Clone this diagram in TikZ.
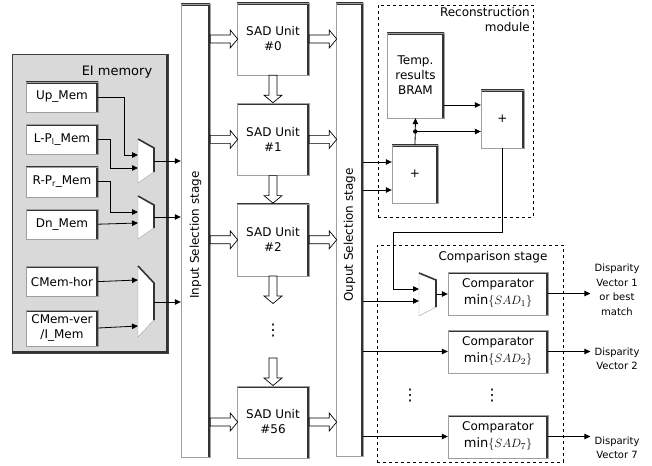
\documentclass[tikz,border=0pt]{standalone}
\usepackage{fontspec}
\setmainfont{DejaVu Sans}
\usetikzlibrary{arrows.meta,positioning,calc}
\newcommand\boxfont{\fontsize{12}{15}\selectfont}
\newcommand\sidefont{\fontsize{10}{14.5}\selectfont}
\newcommand\minsad[1]{{\fontsize{13}{15}\selectfont$\min\{SAD_{#1}\}$}}

\begin{document}
\begin{tikzpicture}[x=1pt,y=-1pt,
   blk/.style={draw=gray!75,fill=white,align=center,inner sep=1pt,font=\boxfont,
               path picture={\draw[black!80,line width=3.2pt]
                 (path picture bounding box.north west) -- (path picture bounding box.north east)
                 -- (path picture bounding box.south east);}},
   mem/.style={blk,minimum width=72pt,minimum height=30pt},
   sad/.style={blk,minimum width=72pt,minimum height=72pt},
   bar/.style={blk,minimum height=453pt},
   comp/.style={blk,minimum width=100pt,minimum height=43pt},
   eibox/.style={draw=black!75,fill=gray!30,minimum width=156pt,minimum height=299pt,
               path picture={\draw[black!80,line width=3.2pt]
                 (path picture bounding box.north east) -- (path picture bounding box.south east)
                 -- (path picture bounding box.south west);}},
   region/.style={draw,dashed,semithick},
   muxs/.style={draw=gray!75,fill=white,line join=miter},
   muxe/.style={draw=black!80,line width=1.6pt},
   barr/.pic={\draw[fill=white,line width=0.7pt,line join=miter]
                (0,-4) -- (20,-4) -- (20,-9) -- (27.5,0) -- (20,9) -- (20,4) -- (0,4) -- cycle;},
   arr/.style={-{Triangle[length=6pt,width=5.5pt]},line width=0.8pt},
   dots/.style={font=\fontsize{16}{16}\selectfont,inner sep=0pt},
   vtxt/.style={rotate=90,font=\boxfont},
   side/.style={align=center,font=\sidefont,inner sep=2pt}
  ]
  \useasboundingbox (0,0) rectangle (652,465);

  % EI memory
  \node[eibox] (ei) at (90,203.5) {};
  \node[font=\fontsize{13}{15}\selectfont] (eitxt) at (117,72) {EI memory};
  \node[mem] (up) at (62,97) {Up\_Mem};
  \node[mem,below=12pt of up] (lp) {L-P\textsubscript{l}\_Mem};
  \node[mem,below=12pt of lp] (rp) {R-P\textsubscript{r}\_Mem};
  \node[mem,below=12pt of rp] (dn) {Dn\_Mem};
  \node[mem,below=27pt of dn] (hor) {CMem-hor};
  \node[mem,minimum height=36pt,below=13pt of hor] (cv) {CMem-ver\\/I\_Mem};

  % multiplexers
  \draw[muxs] (138,139) -- (154,148) -- (154,172) -- (138,183) -- cycle;
  \draw[muxe] (138,139) -- (154,148) -- (154,172);
  \draw[muxs] (138,196) -- (154,205) -- (154,228) -- (138,239) -- cycle;
  \draw[muxe] (138,196) -- (154,205) -- (154,228);
  \draw[muxs] (138,266) -- (154,283) -- (154,320) -- (138,337) -- cycle;
  \draw[muxe] (138,266) -- (154,283) -- (154,320);
  \coordinate (m1a) at (138,155);
  \coordinate (m1b) at (138,168);
  \coordinate (m1o) at (154,161);
  \coordinate (m2a) at (138,212);
  \coordinate (m2b) at (138,223);
  \coordinate (m2o) at (154,217);
  \coordinate (m3a) at (138,280);
  \coordinate (m3b) at (138,326);
  \coordinate (m3o) at (154,302);

  \draw[arr] (up.east) -- ++(26,0) |- (m1a);
  \draw[arr] (lp.east) -- ++(12,0) |- (m1b);
  \draw[arr] (rp.east) -- ++(12,0) |- (m2a);
  \draw[arr] (dn.east) -- (m2b);
  \draw[arr] (hor.east) -- (m3a);
  \draw[arr] (cv.east) -- (m3b);

  % selection stages
  \node[bar,minimum width=29pt] (inbar) at (195.5,230.5) {};
  \node[vtxt] (intxt) at (195.5,235) {Input Selection stage};
  \node[bar,minimum width=27pt] (outbar) at (349.5,229.5) {};
  \node[vtxt] (outtxt) at (349.5,235) {Ouput Selection stage};

  \foreach \m in {m1o,m2o,m3o}
    \draw[arr] (\m) -- (\m -| inbar.west);

  % SAD units
  \node[sad] (sad0) at (273,39) {SAD Unit\\\#0};
  \node[sad,below=28pt of sad0] (sad1) {SAD Unit\\\#1};
  \node[sad,below=28pt of sad1] (sad2) {SAD Unit\\\#2};
  \node[sad] (sad56) at (273,422) {SAD Unit\\\#56};
  \node[dots] (sdots) at (273,331) {⋮};
  \coordinate (s2end) at (273,302);
  \coordinate (s56top) at (273,358);

  \foreach \s in {0,1,2,56}{
    \pic at (inbar.east |- sad\s) {barr};
    \pic at (sad\s.east) {barr};
  }
  \pic[rotate=-90] at (sad0.south) {barr};
  \pic[rotate=-90] at (sad1.south) {barr};
  \pic[rotate=-90] at (sad2.south) {barr};
  \pic[rotate=-90] at (s56top) {barr};

  % reconstruction module
  \node[region,minimum width=155pt,minimum height=212pt] (recon) at (455.5,111) {};
  \node[font=\boxfont,align=right,anchor=north east,inner sep=1pt] (recontxt) at (531,6) {Reconstruction\\module};
  \node[blk,minimum width=57pt,minimum height=85pt] (bram) at (415.5,75.5) {Temp.\\results\\BRAM};
  \node[blk,minimum width=46pt,minimum height=58pt] (adder1) at (415,174) {+};
  \node[blk,minimum width=43pt,minimum height=58pt] (adder2) at (502.5,119) {+};
  \coordinate (a1in1) at (adder1.west |- 0,162);
  \coordinate (a1in2) at (adder1.west |- 0,190);
  \coordinate (a2in1) at (adder2.west |- 0,105);
  \coordinate (jn) at ($(adder1.north)!0.5!(bram.south)$);

  \draw[arr] (outbar.east |- a1in1) -- (a1in1);
  \draw[arr] (outbar.east |- a1in2) -- (a1in2);
  \draw[arr] (bram.east |- a2in1) -- (a2in1);
  \draw[arr] (adder1.north) -- (bram.south);
  \fill (jn) circle (2.2pt);
  \draw[arr] (jn) -- (jn -| adder2.west);

  % comparison stage
  \node[region,minimum width=186pt,minimum height=217pt] (cmpst) at (470,353.5) {};
  \node[font=\boxfont] (comptxt) at (493,257) {Comparison stage};
  \draw[muxs] (419,273) -- (436,280) -- (436,307) -- (419,316) -- cycle;
  \draw[muxe] (419,273) -- (436,280) -- (436,307);
  \coordinate (cma) at (419,289);
  \coordinate (cmb) at (419,301);
  \coordinate (cmo) at (436,294);
  \node[comp] (comp1) at (498,293.5) {Comparator\\[2pt]\minsad{1}};
  \node[comp] (comp2) at (498,351.5) {Comparator\\[2pt]\minsad{2}};
  \node[comp] (comp7) at (498,436.5) {Comparator\\[2pt]\minsad{7}};
  \node[dots] (cdots1) at (410,396) {⋮};
  \node[dots] (cdots2) at (492,396) {⋮};

  \draw[arr] (adder2.south) -- ++(0,84) -| ($(cma)+(-26,0)$) -- (cma);
  \draw[arr] (outbar.east |- cmb) -- (cmb);
  \draw[arr] (cmo) -- (cmo -| comp1.west);
  \draw[arr] (outbar.east |- comp2.west) -- (comp2.west);
  \draw[arr] (outbar.east |- comp7.west) -- (comp7.west);

  % outputs
  \node[side] (dv1) at (617,290) {Disparity\\Vector 1\\or best\\match};
  \node[side] (dv2) at (617,359) {Disparity\\Vector 2};
  \node[side] (dv7) at (617,448) {Disparity\\Vector 7};
  \foreach \c/\d in {comp1/dv1,comp2/dv2,comp7/dv7}
    \draw[arr,shorten >=2pt] (\c.east) -- (\c.east -| \d.west);
\end{tikzpicture}
\end{document}
